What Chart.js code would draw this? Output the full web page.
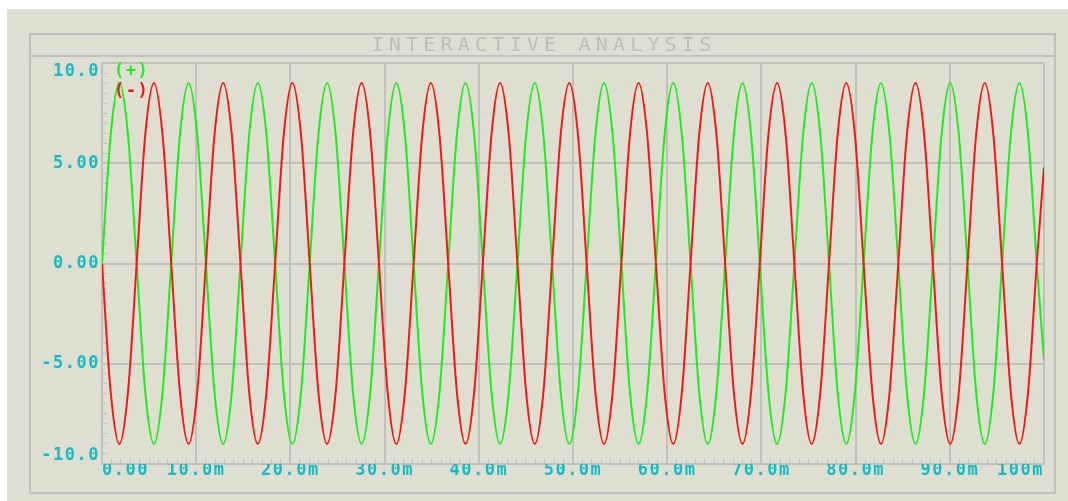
<!DOCTYPE html>
<html>
<head>
<meta charset="utf-8">
<title>Interactive Analysis</title>
<script src="https://cdn.jsdelivr.net/npm/chart.js@4/dist/chart.umd.min.js"></script>
<style>
  html, body { margin: 0; padding: 0; background: #ffffff; }
  #wrap { width: 1068px; height: 501px; }
</style>
</head>
<body>
<div id="wrap"><canvas id="analysisChart" width="1068" height="501"></canvas></div>
<script>
// Sample times (ms): zero crossings, peaks and the points half way between
const timesMs = [
  0, 0.92, 1.84, 2.76, 3.68, 4.59, 5.51, 6.43,
  7.35, 8.27, 9.19, 10.11, 11.03, 11.94, 12.86, 13.78,
  14.70, 15.62, 16.54, 17.46, 18.38, 19.29, 20.21, 21.13,
  22.05, 22.97, 23.89, 24.81, 25.73, 26.64, 27.56, 28.48,
  29.40, 30.32, 31.24, 32.16, 33.08, 33.99, 34.91, 35.83,
  36.75, 37.67, 38.59, 39.51, 40.43, 41.34, 42.26, 43.18,
  44.10, 45.02, 45.94, 46.86, 47.78, 48.69, 49.61, 50.53,
  51.45, 52.37, 53.29, 54.21, 55.13, 56.04, 56.96, 57.88,
  58.80, 59.72, 60.64, 61.56, 62.48, 63.39, 64.31, 65.23,
  66.15, 67.07, 67.99, 68.91, 69.83, 70.74, 71.66, 72.58,
  73.50, 74.42, 75.34, 76.26, 77.18, 78.09, 79.01, 79.93,
  80.85, 81.77, 82.69, 83.61, 84.53, 85.44, 86.36, 87.28,
  88.20, 89.12, 90.04, 90.96, 91.88, 92.79, 93.71, 94.63,
  95.55, 96.47, 97.39, 98.31, 99.23, 100.0
];

// (+) trace, volts
const plusValues = [
  0, 6.4, 9.0, 6.4, 0, -6.4, -9.0, -6.4,
  0, 6.4, 9.0, 6.4, 0, -6.4, -9.0, -6.4,
  0, 6.4, 9.0, 6.4, 0, -6.4, -9.0, -6.4,
  0, 6.4, 9.0, 6.4, 0, -6.4, -9.0, -6.4,
  0, 6.4, 9.0, 6.4, 0, -6.4, -9.0, -6.4,
  0, 6.4, 9.0, 6.4, 0, -6.4, -9.0, -6.4,
  0, 6.4, 9.0, 6.4, 0, -6.4, -9.0, -6.4,
  0, 6.4, 9.0, 6.4, 0, -6.4, -9.0, -6.4,
  0, 6.4, 9.0, 6.4, 0, -6.4, -9.0, -6.4,
  0, 6.4, 9.0, 6.4, 0, -6.4, -9.0, -6.4,
  0, 6.4, 9.0, 6.4, 0, -6.4, -9.0, -6.4,
  0, 6.4, 9.0, 6.4, 0, -6.4, -9.0, -6.4,
  0, 6.4, 9.0, 6.4, 0, -6.4, -9.0, -6.4,
  0, 6.4, 9.0, 6.4, 0, -4.8
];

// (-) trace, volts
const minusValues = [
  0, -6.4, -9.0, -6.4, 0, 6.4, 9.0, 6.4,
  0, -6.4, -9.0, -6.4, 0, 6.4, 9.0, 6.4,
  0, -6.4, -9.0, -6.4, 0, 6.4, 9.0, 6.4,
  0, -6.4, -9.0, -6.4, 0, 6.4, 9.0, 6.4,
  0, -6.4, -9.0, -6.4, 0, 6.4, 9.0, 6.4,
  0, -6.4, -9.0, -6.4, 0, 6.4, 9.0, 6.4,
  0, -6.4, -9.0, -6.4, 0, 6.4, 9.0, 6.4,
  0, -6.4, -9.0, -6.4, 0, 6.4, 9.0, 6.4,
  0, -6.4, -9.0, -6.4, 0, 6.4, 9.0, 6.4,
  0, -6.4, -9.0, -6.4, 0, 6.4, 9.0, 6.4,
  0, -6.4, -9.0, -6.4, 0, 6.4, 9.0, 6.4,
  0, -6.4, -9.0, -6.4, 0, 6.4, 9.0, 6.4,
  0, -6.4, -9.0, -6.4, 0, 6.4, 9.0, 6.4,
  0, -6.4, -9.0, -6.4, 0, 4.8
];

const seriesLabels = ['(+)', '(-)'];
const xTickLabels = ['0.00', '10.0m', '20.0m', '30.0m', '40.0m', '50.0m', '60.0m', '70.0m', '80.0m', '90.0m', '100m'];
const yTickLabels = ['-10.0', '-5.00', '0.00', '5.00', '10.0'];
const titleText = 'INTERACTIVE ANALYSIS';

const gridColor = '#c0c0bc';
const labelColor = '#12bcc6';
const monoFont = '"DejaVu Sans Mono", "Liberation Mono", monospace';

// panel, outer frame and title bar, y labels and trace legend
const proteusFrame = {
    id: 'proteusFrame',
    beforeDraw(chart) {
        const ctx = chart.ctx;
        ctx.save();
        ctx.fillStyle = '#ffffff';
        ctx.fillRect(0, 0, chart.width, chart.height);
        ctx.fillStyle = '#dedfd0';
        ctx.fillRect(7, 9, chart.width - 7, chart.height - 9);

        ctx.strokeStyle = gridColor;
        ctx.lineWidth = 2;
        ctx.strokeRect(30, 34, 1025, 459);
        ctx.beginPath();
        ctx.moveTo(30, 56);
        ctx.lineTo(1055, 56);
        ctx.stroke();

        ctx.fillStyle = '#bdbdbb';
        ctx.font = '20px ' + monoFont;
        ctx.letterSpacing = '5.2px';
        ctx.textAlign = 'center';
        ctx.textBaseline = 'middle';
        ctx.fillText(titleText, 544, 46);
        ctx.restore();

        // wide pixel-font look for the tick labels drawn after this
        ctx.letterSpacing = '1.5px';
    },
    afterDraw(chart) {
        const ctx = chart.ctx;
        const yScale = chart.scales.y;
        ctx.save();
        ctx.font = 'bold 17px ' + monoFont;
        ctx.letterSpacing = '1.5px';
        ctx.fillStyle = labelColor;
        ctx.textAlign = 'right';
        ctx.textBaseline = 'middle';
        yScale.ticks.forEach((tick, i) => {
            let py = yScale.getPixelForValue(tick.value);
            if (tick.value === yScale.max) py += 9;
            if (tick.value === yScale.min) py -= 8;
            ctx.fillText(yTickLabels[i], 100, py);
        });

        ctx.textAlign = 'left';
        chart.data.datasets.forEach((ds, i) => {
            ctx.fillStyle = ds.borderColor;
            ctx.fillText(ds.label, chart.chartArea.left + 12, 72 + i * 20);
        });
        ctx.restore();
    }
};

const ctx = document.getElementById('analysisChart').getContext('2d');
const analysisChart = new Chart(ctx, {
    type: 'line',
    data: {
        datasets: [{
            label: seriesLabels[0],
            data: timesMs.map((t, i) => ({ x: t, y: plusValues[i] })),
            borderColor: 'rgb(24, 240, 24)',
            borderWidth: 2,
            pointRadius: 0,
            cubicInterpolationMode: 'monotone',
            xAxisID: 'x',
            yAxisID: 'y',
            order: 1
        }, {
            label: seriesLabels[1],
            data: timesMs.map((t, i) => ({ x: t, y: minusValues[i] })),
            borderColor: 'rgb(250, 22, 22)',
            borderWidth: 2,
            pointRadius: 0,
            cubicInterpolationMode: 'monotone',
            xAxisID: 'x',
            yAxisID: 'y',
            order: 0
        }]
    },
    options: {
        responsive: false,
        animation: false,
        events: [],
        layout: { padding: { left: 0, top: 63, right: 24, bottom: 0 } },
        plugins: {
            legend: { display: false },
            tooltip: { enabled: false },
            title: { display: false }
        },
        scales: {
            x: {
                type: 'linear',
                position: 'bottom',
                weight: 1,
                min: 0,
                max: 100,
                afterFit: (scale) => { scale.height = 37; },
                grid: { color: gridColor, lineWidth: 2, drawTicks: false },
                border: { color: gridColor, width: 2 },
                ticks: {
                    stepSize: 10,
                    autoSkip: false,
                    maxRotation: 0,
                    align: 'inner',
                    padding: -4,
                    color: labelColor,
                    font: { family: monoFont, size: 17, weight: 'bold' },
                    callback: (value, index) => xTickLabels[index]
                }
            },
            xMinor: {
                type: 'linear',
                position: 'bottom',
                weight: 0,
                min: 0,
                max: 100,
                afterFit: (scale) => { scale.height = 0; },
                grid: { drawOnChartArea: false, drawTicks: true, tickLength: -5, tickColor: gridColor, tickWidth: 1 },
                border: { display: false },
                ticks: { display: false, stepSize: 1, maxTicksLimit: 200 }
            },
            y: {
                type: 'linear',
                position: 'left',
                weight: 1,
                min: -10,
                max: 10,
                afterFit: (scale) => { scale.width = 102; },
                grid: { color: gridColor, lineWidth: 2, drawTicks: false },
                border: { color: gridColor, width: 2 },
                ticks: { display: false, stepSize: 5 }
            },
            yMinor: {
                type: 'linear',
                position: 'left',
                weight: 0,
                min: -10,
                max: 10,
                afterFit: (scale) => { scale.width = 0; },
                grid: { drawOnChartArea: false, drawTicks: true, tickLength: -5, tickColor: gridColor, tickWidth: 1 },
                border: { display: false },
                ticks: { display: false, stepSize: 0.5, maxTicksLimit: 200 }
            }
        }
    },
    plugins: [proteusFrame]
});
</script>
</body>
</html>
